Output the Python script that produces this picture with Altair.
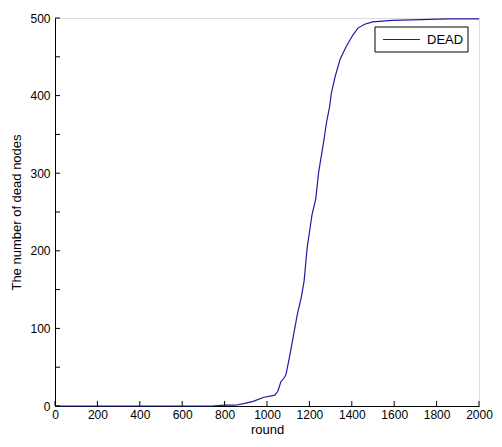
import altair as alt
import pandas as pd

rounds = [0, 740, 800, 850, 890, 935, 982, 1037, 1051, 1065, 1083, 1090, 1106, 1129, 1143,
          1161, 1175, 1189, 1212, 1230, 1244, 1267, 1281, 1295, 1304, 1322, 1345, 1373, 1405,
          1429, 1461, 1498, 1590, 1728, 1850, 2000]
dead = [0, 0, 1, 1, 3, 6, 11, 14, 19, 31, 37, 41, 63, 97, 118, 139, 161, 203, 246, 267, 302,
        340, 366, 385, 404, 425, 447, 463, 478, 487, 492, 495, 497, 498, 499, 499]
x_ticks = [0, 200, 400, 600, 800, 1000, 1200, 1400, 1600, 1800, 2000]
y_ticks = [0, 50, 100, 150, 200, 250, 300, 350, 400, 450, 500]
series_name = ["DEAD"]

W, H = 424, 388
LINE = "#1c1ca6"
FONT = "Liberation Sans"

df = pd.DataFrame({"round": rounds, "dead": dead})
xt = pd.DataFrame({"t": x_ticks})
yt = pd.DataFrame({"t": y_ticks})
lg = pd.DataFrame({"name": series_name})

xs = alt.Scale(domain=[0, 2000], nice=False)
ys = alt.Scale(domain=[0, 500], nice=False)

common_axis = dict(ticks=False, domainColor="black", labelColor="black", titleColor="black",
                   labelFontSize=12, titleFontSize=13, titleFontWeight="normal",
                   labelFont=FONT, titleFont=FONT, grid=False, labelOverlap=False,
                   labelFlush=False, format="d")

line = alt.Chart(df).mark_line(strokeWidth=1.2, color=LINE).encode(
    x=alt.X("round:Q", scale=xs, title="round",
            axis=alt.Axis(values=x_ticks, labelPadding=3, titlePadding=3, **common_axis)),
    y=alt.Y("dead:Q", scale=ys, title="The  number of dead nodes",
            axis=alt.Axis(values=y_ticks, labelPadding=5, titlePadding=6, **common_axis)),
)

xtick = alt.Chart(xt).mark_rule(color="black", strokeWidth=1).encode(
    x=alt.X("t:Q", scale=xs), y=alt.value(H), y2=alt.value(H - 5))
ytick = alt.Chart(yt).mark_rule(color="black", strokeWidth=1).encode(
    y=alt.Y("t:Q", scale=ys), x=alt.value(0), x2=alt.value(5))

# legend box
lbox = alt.Chart(lg).mark_rect(fill="white", stroke="black", strokeWidth=1).encode(
    x=alt.value(320), x2=alt.value(413), y=alt.value(9), y2=alt.value(34))
lline = alt.Chart(lg).mark_rule(color=LINE, strokeWidth=1.2).encode(
    x=alt.value(328), x2=alt.value(365), y=alt.value(21.5))
ltext = alt.Chart(lg).mark_text(align="left", baseline="middle", font=FONT, fontSize=13,
                                color="black").encode(
    x=alt.value(372), y=alt.value(22), text="name:N")

chart = alt.layer(line, xtick, ytick, lbox, lline, ltext).properties(
    width=W, height=H,
    autosize=alt.AutoSizeParams(type="none"),
    padding={"left": 47, "top": 10, "right": 15, "bottom": 33},
).configure_view(stroke=None).configure(background="white")

chart.save("out.html", embed_options={"renderer": "svg", "actions": False})
